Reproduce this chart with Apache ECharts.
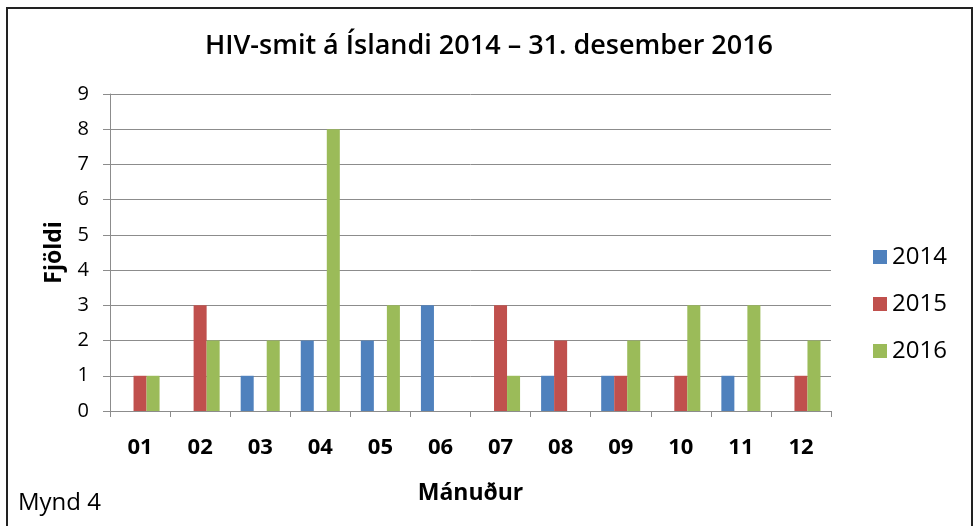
<!DOCTYPE html>
<html>
<head>
<meta charset="utf-8">
<script src="https://cdn.jsdelivr.net/npm/echarts@6/dist/echarts.min.js"></script>
<style>
  html, body { margin: 0; padding: 0; background: #fff; }
  #chart { width: 978px; height: 526px; }
</style>
</head>
<body>
<div id="chart"></div>
<script>
const months = ["01", "02", "03", "04", "05", "06", "07", "08", "09", "10", "11", "12"];
const values2014 = [0, 0, 1, 2, 2, 3, 0, 1, 1, 0, 1, 0];
const values2015 = [1, 3, 0, 0, 0, 0, 3, 2, 1, 1, 0, 1];
const values2016 = [1, 2, 2, 8, 3, 0, 1, 0, 2, 3, 3, 2];
const yTicks = [0, 1, 2, 3, 4, 5, 6, 7, 8, 9];

const colors = ["#4F81BD", "#C0504D", "#9BBB59"];
const font = "'Open Sans', 'Noto Sans', sans-serif";

const myChart = echarts.init(document.getElementById("chart"));
const option = {
  animation: false,
  textStyle: { fontFamily: font },
  title: {
    text: "HIV-smit á Íslandi 2014 – 31. desember 2016",
    left: "center",
    top: 28,
    textStyle: { fontSize: 27, fontWeight: 600, color: "#000", fontFamily: font },
  },
  graphic: [
    {
      type: "rect",
      shape: { x: 7, y: 8, width: 965, height: 540 },
      style: { fill: "none", stroke: "#222", lineWidth: 2 },
      silent: true,
    },
    {
      type: "text",
      left: 18,
      top: 491,
      style: { text: "Mynd 4", fontSize: 24, fill: "#000", fontFamily: font },
    },
  ],
  legend: {
    orient: "vertical",
    left: 868,
    top: 240,
    itemWidth: 14,
    itemHeight: 14,
    itemGap: 23,
    icon: "rect",
    textStyle: { fontSize: 24, color: "#000", fontFamily: font },
  },
  grid: {
    left: 110,
    right: 147,
    top: 94,
    bottom: 115,
  },
  xAxis: {
    type: "category",
    data: months,
    name: "Mánuður",
    nameLocation: "middle",
    nameGap: 71,
    nameTextStyle: { fontSize: 23, fontWeight: "bold", color: "#000" },
    axisLine: { lineStyle: { color: "#8c8c8c", width: 1 } },
    axisTick: { show: true, length: 6, lineStyle: { color: "#8c8c8c" } },
    axisLabel: { fontSize: 22, fontWeight: "bold", color: "#000", margin: 26 },
  },
  yAxis: {
    type: "value",
    min: yTicks[0],
    max: yTicks[yTicks.length - 1],
    interval: 1,
    name: "Fjöldi",
    nameLocation: "middle",
    nameGap: 44,
    nameRotate: 90,
    nameTextStyle: { fontSize: 23, fontWeight: "bold", color: "#000" },
    axisLine: { show: true, lineStyle: { color: "#8c8c8c", width: 1 } },
    axisTick: { show: true, length: 7, lineStyle: { color: "#8c8c8c" } },
    axisLabel: { fontSize: 20, color: "#000", margin: 21 },
    splitLine: { lineStyle: { color: "#8c8c8c", width: 1 } },
  },
  series: [
    { name: "2014", data: values2014 },
    { name: "2015", data: values2015 },
    { name: "2016", data: values2016 },
  ].map((s, i) => ({
    name: s.name,
    type: "bar",
    data: s.data,
    barGap: "0%",
    barCategoryGap: "35%",
    itemStyle: { color: colors[i] },
  })),
};
myChart.setOption(option);
</script>
</body>
</html>
